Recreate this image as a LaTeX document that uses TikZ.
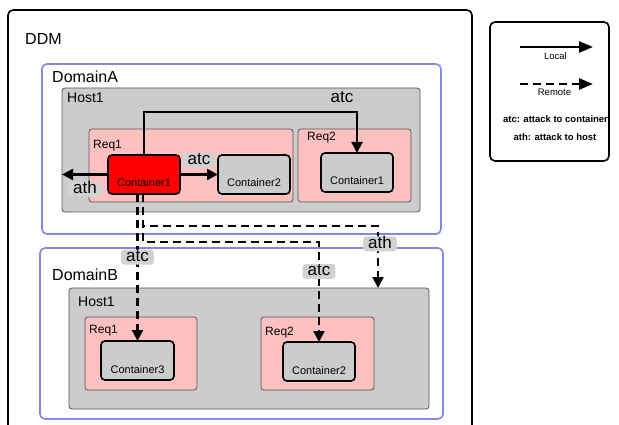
\documentclass[tikz,border=0pt]{standalone}
\usepackage{fontspec}
\setmainfont{Liberation Sans}
\usetikzlibrary{arrows.meta,positioning}

\definecolor{domainblue}{RGB}{135,135,225}
\definecolor{hostgray}{RGB}{204,204,204}
\definecolor{taggray}{RGB}{210,210,210}
\definecolor{reqpink}{RGB}{255,192,192}
\definecolor{edgegray}{RGB}{85,85,85}

\tikzset{
    areabox/.style={anchor=north west, inner sep=0pt, outer sep=0pt, rounded corners=3pt},
    framebox/.style={areabox, draw=black, line width=1.6pt, rounded corners=5pt},
    domainbox/.style={areabox, draw=domainblue, line width=1.6pt, rounded corners=5pt},
    hostbox/.style={areabox, draw=edgegray, fill=hostgray, line width=0.8pt},
    reqbox/.style={areabox, draw=edgegray, fill=reqpink, line width=0.8pt},
    contbox/.style={areabox, draw=black, fill=hostgray, line width=1.6pt, rounded corners=4pt},
    boxtitle/.style={anchor=base west, inner sep=0pt},
    ctext/.style={anchor=base, inner sep=0pt, font=\fontsize{11}{11}\selectfont},
    localarrow/.style={-{Triangle[length=11pt,width=11pt]}, line width=2.2pt},
    remotearrow/.style={localarrow, dash pattern=on 8pt off 5pt},
    legendarrow/.style={-{Triangle[length=14pt,width=11pt]}, line width=2.6pt},
    tagbox/.style={fill=taggray, rounded corners=3pt, inner xsep=5pt, inner ysep=2pt,
        text height=10pt, text depth=1pt, font=\fontsize{17}{17}\selectfont}
}

\begin{document}
\begin{tikzpicture}[x=1pt, y=-1pt]
    \useasboundingbox (0,0) rectangle (619,425);
    \clip (0,0) rectangle (619,425);

    \node[framebox, minimum width=464pt, minimum height=430pt] (ddm) at (8,10) {};
    \node[boxtitle, font=\fontsize{16}{16}\selectfont] (ddmname) at (25,45) {DDM};

    \node[domainbox, minimum width=399pt, minimum height=170pt] (domA) at (42,64) {};
    \node[boxtitle, font=\fontsize{16}{16}\selectfont] (domAname) at (52,83) {DomainA};
    \node[hostbox, minimum width=358pt, minimum height=124pt] (hostA) at (62,88) {};
    \node[boxtitle, font=\fontsize{14}{14}\selectfont] (hostAname) at (67,103) {Host1};
    \node[reqbox, minimum width=204pt, minimum height=73pt] (reqA1) at (89,129) {};
    \node[boxtitle, font=\fontsize{12}{12}\selectfont] (reqA1name) at (93,149) {Req1};
    \node[reqbox, minimum width=113pt, minimum height=73pt] (reqA2) at (298,129) {};
    \node[boxtitle, font=\fontsize{12}{12}\selectfont] (reqA2name) at (307,141) {Req2};
    \node[contbox, fill=red, minimum width=72pt, minimum height=39pt] (redc) at (108,155) {};
    \node[ctext] (redcname) at ([yshift=7pt]redc.south) {Container1};
    \node[contbox, minimum width=72pt, minimum height=39pt] (contA2) at (218,155) {};
    \node[ctext] (contA2name) at ([yshift=7pt]contA2.south) {Container2};
    \node[contbox, minimum width=72pt, minimum height=39pt] (contR2) at (321,153) {};
    \node[ctext] (contR2name) at ([yshift=7pt]contR2.south) {Container1};

    \node[domainbox, minimum width=403pt, minimum height=171pt] (domB) at (40,248) {};
    \node[boxtitle, font=\fontsize{16}{16}\selectfont] (domBname) at (52,280) {DomainB};
    \node[hostbox, minimum width=360pt, minimum height=121pt] (hostB) at (69,288) {};
    \node[boxtitle, font=\fontsize{14}{14}\selectfont] (hostBname) at (78,306) {Host1};
    \node[reqbox, minimum width=112pt, minimum height=73pt] (reqB1) at (85,317) {};
    \node[boxtitle, font=\fontsize{12}{12}\selectfont] (reqB1name) at (89,333) {Req1};
    \node[reqbox, minimum width=113pt, minimum height=73pt] (reqB2) at (261,317) {};
    \node[boxtitle, font=\fontsize{12}{12}\selectfont] (reqB2name) at (265,335) {Req2};
    \node[contbox, minimum width=73pt, minimum height=39pt] (contB3) at (101,341) {};
    \node[ctext] (contB3name) at ([yshift=7pt]contB3.south) {Container3};
    \node[contbox, minimum width=72pt, minimum height=39pt] (contB2) at (283,342) {};
    \node[ctext] (contB2name) at ([yshift=7pt]contB2.south) {Container2};

    \coordinate (ridge) at (342,112);
    \draw[localarrow] (redc.north) |- (ridge) node[tagbox, fill=none, above=5pt] (atcTop) {atc} -| (contR2.north);
    \draw[localarrow] (redc.east) -- (contA2.west) node[tagbox, midway, above=6pt] (atcLocal) {atc};
    \draw[localarrow] (redc.west) -- (hostA.west |- redc.west) node[tagbox, midway, below=6pt] (athLocal) {ath};

    \coordinate (athturn) at (378,226);
    \coordinate (atcturn) at (250,242);
    \draw[remotearrow] ([xshift=-1pt]redc.south) |- (athturn) -- (athturn |- hostB.north) node[tagbox, pos=0.29, xshift=2pt] (athRemote) {ath};
    \draw[remotearrow] ([xshift=-1pt]redc.south) |- (atcturn) -| (contB2.north) node[tagbox, pos=0.647] (atcRemoteB) {atc};
    \draw[remotearrow] (contB3.north |- redc.south) -- (contB3.north) node[tagbox, pos=0.43] (atcRemoteA) {atc};

    \node[framebox, minimum width=119pt, minimum height=139pt] (legend) at (490,22) {};
    \coordinate (localL) at (520,47);
    \coordinate (localR) at (593,47);
    \coordinate (remoteL) at (520,84);
    \coordinate (remoteR) at (593,84);
    \draw[legendarrow] (localL) -- (localR);
    \draw[legendarrow, dash pattern=on 8pt off 5pt] (remoteL) -- (remoteR);
    \node[anchor=base, font=\fontsize{9.5}{9.5}\selectfont] (localname) at (555.5,60) {Local};
    \node[anchor=base, font=\fontsize{9.5}{9.5}\selectfont] (remotename) at (554.5,96) {Remote};
    \node[anchor=base, font=\bfseries\fontsize{9.5}{9.5}\selectfont] (atcnote) at (555.5,123) {atc: attack to container};
    \node[anchor=base, font=\bfseries\fontsize{9.5}{9.5}\selectfont] (athnote) at (555,141) {ath: attack to host};
\end{tikzpicture}
\end{document}
